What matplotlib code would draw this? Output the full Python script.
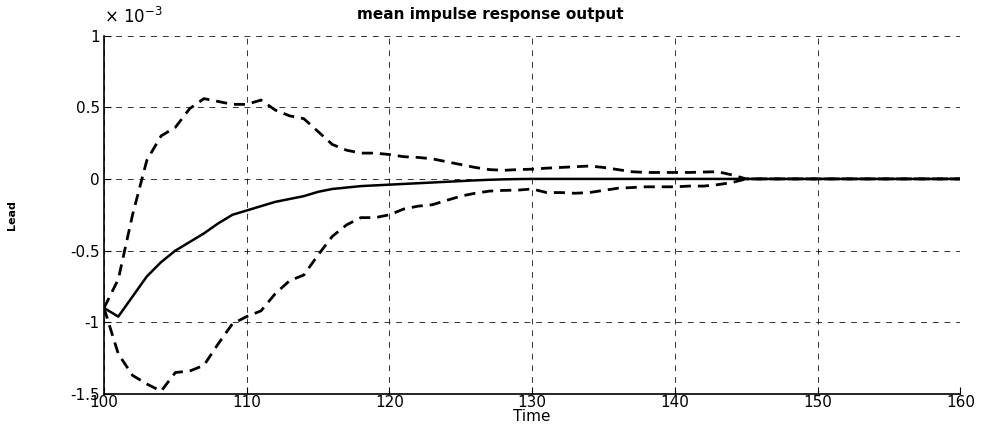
import numpy as np
import matplotlib.pyplot as plt

plt.rcParams['font.family'] = ['DejaVu Sans']

# values in units of 1e-3
time = list(range(100, 161))
mean_resp = [-0.90, -0.96, -0.82, -0.68, -0.58, -0.50, -0.44, -0.38, -0.31, -0.25,
             -0.22, -0.19, -0.16, -0.14, -0.12, -0.09, -0.07, -0.06, -0.05, -0.045,
             -0.04, -0.035, -0.03, -0.025, -0.02, -0.015, -0.01, -0.006, -0.003, -0.001] + [0.0] * 31
upper = [-0.90, -0.70, -0.25, 0.13, 0.30, 0.36, 0.49, 0.56, 0.54, 0.52,
         0.52, 0.55, 0.48, 0.44, 0.42, 0.33, 0.24, 0.20, 0.18, 0.18,
         0.17, 0.155, 0.15, 0.14, 0.12, 0.10, 0.08, 0.065, 0.06, 0.065,
         0.068, 0.075, 0.08, 0.085, 0.09, 0.08, 0.065, 0.05, 0.045, 0.045,
         0.045, 0.045, 0.048, 0.05, 0.028] + [0.0] * 16
lower = [-0.90, -1.22, -1.37, -1.43, -1.48, -1.35, -1.34, -1.30, -1.15, -1.01,
         -0.96, -0.92, -0.80, -0.71, -0.67, -0.53, -0.40, -0.32, -0.27, -0.27,
         -0.25, -0.21, -0.19, -0.18, -0.15, -0.12, -0.10, -0.085, -0.08, -0.078,
         -0.07, -0.095, -0.095, -0.10, -0.095, -0.08, -0.065, -0.06, -0.055, -0.055,
         -0.055, -0.05, -0.05, -0.04, -0.025] + [0.0] * 16

xticks = [100, 110, 120, 130, 140, 150, 160]
yticks = [-1.5, -1, -0.5, 0, 0.5, 1]
ylabels = ['-1.5', '-1', '-0.5', '0', '0.5', '1']

fig = plt.figure(figsize=(9.85, 4.28), dpi=100)
ax = fig.add_axes([0.1056, 0.0794, 0.8694, 0.8376])

ax.plot(time, mean_resp, color='black', lw=1.8, zorder=3)
ax.plot(time, upper, color='black', lw=2.0, ls=(0, (4, 2.5)), zorder=3)
ax.plot(time, lower, color='black', lw=2.0, ls=(0, (4, 2.5)), zorder=3)

ax.set_xlim(100, 160)
ax.set_ylim(-1.5, 1)
ax.set_xticks(xticks)
ax.set_yticks(yticks)
ax.set_yticklabels(ylabels)
ax.tick_params(direction='in', length=5, labelsize=11, colors='black')
ax.tick_params(axis='x', pad=1)
ax.tick_params(axis='y', pad=3)
ax.grid(True, color='black', ls=(0, (6, 6)), lw=0.7, alpha=0.8)
for s in ['top', 'right']:
    ax.spines[s].set_visible(False)
ax.spines['left'].set_linewidth(1.2)
ax.spines['bottom'].set_linewidth(1.2)

ax.set_title('mean impulse response output', fontsize=11, fontweight='bold', x=0.451, pad=12)
ax.set_xlabel('Time', fontsize=11)
ax.xaxis.set_label_coords(0.5, -0.043)
ax.set_ylabel('Lead', fontsize=8, fontweight='bold')
ax.yaxis.set_label_coords(-0.1016, 0.5)
ax.text(0.0, 1.025, r'$\times$ 10$^{-3}$', transform=ax.transAxes, fontsize=12, va='bottom', ha='left')

plt.savefig('out.png', dpi=100)
